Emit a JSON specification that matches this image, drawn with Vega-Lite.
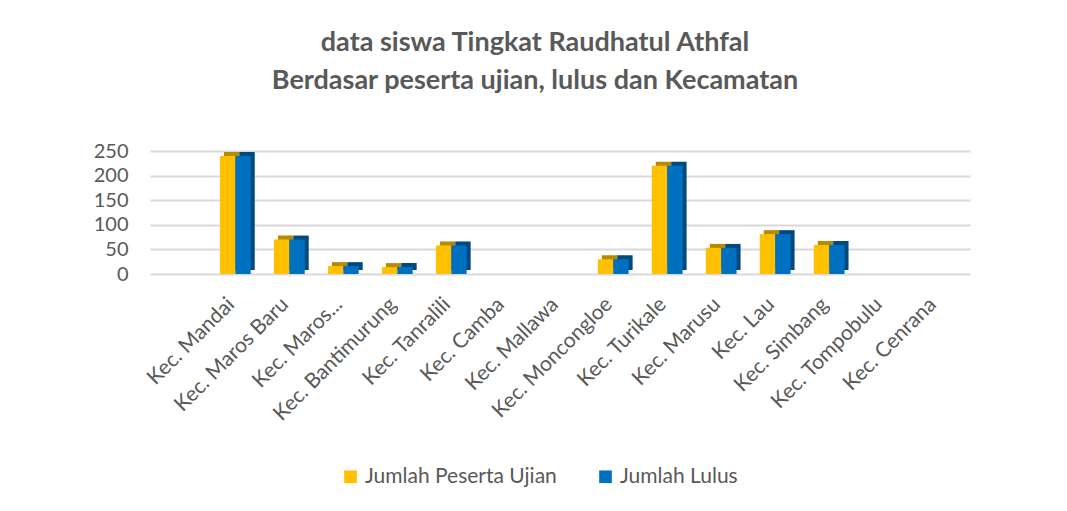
{
  "$schema": "https://vega.github.io/schema/vega-lite/v6.json",
  "autosize": "none",
  "width": 820,
  "height": 123,
  "padding": {"left": 150, "top": 151, "right": 97, "bottom": 237},
  "background": "white",
  "title": {
    "text": ["data siswa Tingkat Raudhatul Athfal", "Berdasar peserta ujian, lulus dan Kecamatan"],
    "font": "Lato",
    "fontSize": 27,
    "fontWeight": "bold",
    "color": "#595959",
    "anchor": "middle",
    "frame": "group",
    "dx": -25,
    "offset": 46,
    "lineHeight": 38
  },
  "data": {
    "values": [
      {"kec": "Kec. Mandai", "series": "Jumlah Peserta Ujian", "value": 240},
      {"kec": "Kec. Mandai", "series": "Jumlah Lulus", "value": 240},
      {"kec": "Kec. Maros Baru", "series": "Jumlah Peserta Ujian", "value": 70},
      {"kec": "Kec. Maros Baru", "series": "Jumlah Lulus", "value": 70},
      {"kec": "Kec. Maros...", "series": "Jumlah Peserta Ujian", "value": 16},
      {"kec": "Kec. Maros...", "series": "Jumlah Lulus", "value": 16},
      {"kec": "Kec. Bantimurung", "series": "Jumlah Peserta Ujian", "value": 14},
      {"kec": "Kec. Bantimurung", "series": "Jumlah Lulus", "value": 14},
      {"kec": "Kec. Tanralili", "series": "Jumlah Peserta Ujian", "value": 58},
      {"kec": "Kec. Tanralili", "series": "Jumlah Lulus", "value": 58},
      {"kec": "Kec. Camba", "series": "Jumlah Peserta Ujian", "value": 0},
      {"kec": "Kec. Camba", "series": "Jumlah Lulus", "value": 0},
      {"kec": "Kec. Mallawa", "series": "Jumlah Peserta Ujian", "value": 0},
      {"kec": "Kec. Mallawa", "series": "Jumlah Lulus", "value": 0},
      {"kec": "Kec. Moncongloe", "series": "Jumlah Peserta Ujian", "value": 30},
      {"kec": "Kec. Moncongloe", "series": "Jumlah Lulus", "value": 30},
      {"kec": "Kec. Turikale", "series": "Jumlah Peserta Ujian", "value": 220},
      {"kec": "Kec. Turikale", "series": "Jumlah Lulus", "value": 220},
      {"kec": "Kec. Marusu", "series": "Jumlah Peserta Ujian", "value": 53},
      {"kec": "Kec. Marusu", "series": "Jumlah Lulus", "value": 53},
      {"kec": "Kec. Lau", "series": "Jumlah Peserta Ujian", "value": 81},
      {"kec": "Kec. Lau", "series": "Jumlah Lulus", "value": 81},
      {"kec": "Kec. Simbang", "series": "Jumlah Peserta Ujian", "value": 59},
      {"kec": "Kec. Simbang", "series": "Jumlah Lulus", "value": 59},
      {"kec": "Kec. Tompobulu", "series": "Jumlah Peserta Ujian", "value": 0},
      {"kec": "Kec. Tompobulu", "series": "Jumlah Lulus", "value": 0},
      {"kec": "Kec. Cenrana", "series": "Jumlah Peserta Ujian", "value": 0},
      {"kec": "Kec. Cenrana", "series": "Jumlah Lulus", "value": 0}
    ]
  },
  "encoding": {
    "x": {
      "field": "kec",
      "type": "nominal",
      "sort": null,
      "scale": {"paddingInner": 0.43, "paddingOuter": 0.81, "align": 0.8},
      "axis": {
        "title": null,
        "domain": false,
        "ticks": false,
        "labelAngle": -45,
        "labelAlign": "right",
        "labelBaseline": "middle",
        "labelPadding": 27,
        "labelOffset": -4,
        "labelFont": "Lato",
        "labelFontSize": 21,
        "labelColor": "#595959",
        "labelLimit": 300
      }
    },
    "y": {
      "field": "value",
      "type": "quantitative",
      "scale": {"domain": [0, 250], "nice": false},
      "axis": {
        "title": null,
        "values": [0, 50, 100, 150, 200, 250],
        "domain": false,
        "ticks": false,
        "labelFont": "Lato",
        "labelFontSize": 20,
        "labelColor": "#595959",
        "labelPadding": 22,
        "grid": true,
        "gridColor": "#D9D9D9",
        "gridWidth": 2
      }
    }
  },
  "layer": [
    {
      "mark": {"type": "bar", "yOffset": -4, "y2Offset": -1},
      "encoding": {
        "xOffset": {
          "field": "series",
          "type": "nominal",
          "sort": ["Jumlah Peserta Ujian", "Jumlah Lulus"],
          "scale": {"range": [4, 34.77]}
        },
        "color": {
          "field": "series",
          "type": "nominal",
          "scale": {"domain": ["Jumlah Peserta Ujian", "Jumlah Lulus"], "range": ["#B88A00", "#004A80"]},
          "legend": null
        }
      }
    },
    {
      "mark": {"type": "bar"},
      "encoding": {
        "xOffset": {
          "field": "series",
          "type": "nominal",
          "sort": ["Jumlah Peserta Ujian", "Jumlah Lulus"]
        },
        "color": {
          "field": "series",
          "type": "nominal",
          "scale": {"domain": ["Jumlah Peserta Ujian", "Jumlah Lulus"], "range": ["#FFC000", "#0070C0"]},
          "legend": {
            "title": null,
            "orient": "none",
            "direction": "horizontal",
            "legendX": 190,
            "legendY": 315,
            "symbolType": "square",
            "symbolSize": 160,
            "symbolStrokeWidth": 0,
            "labelFont": "Lato",
            "labelFontSize": 21,
            "labelColor": "#595959",
            "labelLimit": 400,
            "columnPadding": 38
          }
        }
      }
    }
  ],
  "resolve": {"scale": {"color": "independent", "xOffset": "independent"}},
  "config": {"view": {"stroke": null}}
}
